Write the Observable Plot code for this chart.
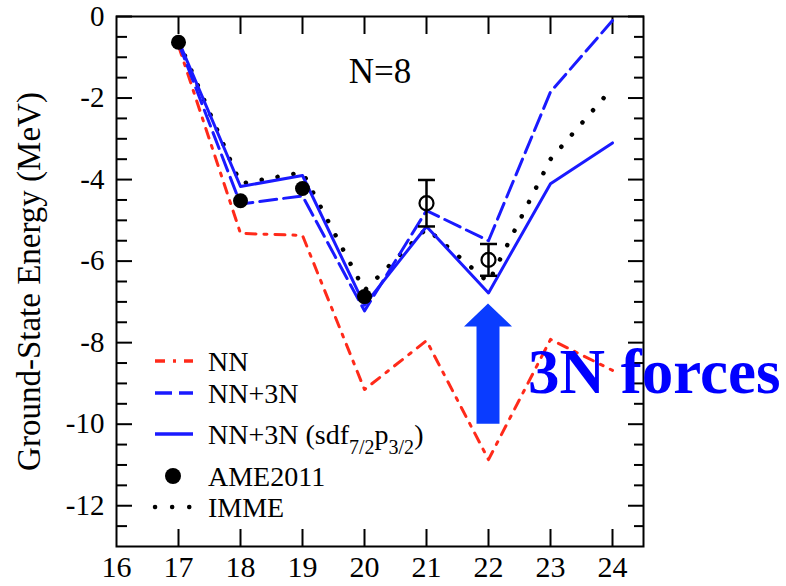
<!DOCTYPE html>
<html><head><meta charset="utf-8">
<script src="https://cdn.jsdelivr.net/npm/d3@7"></script>
<script src="https://cdn.jsdelivr.net/npm/@observablehq/plot@0.6"></script>
<style>
html,body{margin:0;padding:0;background:#fff;}
#chart{width:786px;height:586px;}
</style></head><body><div id="chart"></div>
<script>
// ---- data ----
const Z = [17, 18, 19, 20, 21, 22, 23, 24];
const nnE    = [-0.72, -5.32, -5.37, -9.15, -7.95, -10.87, -7.92, -8.68];
const nn3nE  = [-0.65, -4.60, -4.40, -7.22, -4.76, -5.50, -1.85, -0.10];
const sdfE   = [-0.60, -4.17, -3.90, -7.08, -5.15, -6.78, -4.10, -3.10];
const immeE  = [-0.60, -4.10, -3.82, -6.72, -5.20, -6.52, -3.50, -1.75];
const ameZ = [17, 18, 19, 20];
const ameE = [-0.63, -4.52, -4.22, -6.87];
const extZ = [21, 22];
const extE = [-4.58, -5.97];
const extErr = [0.57, 0.39];
const xTicks = [16, 17, 18, 19, 20, 21, 22, 23, 24];
const xInnerTicks = [17, 18, 19, 20, 21, 22, 23, 24];
const yTicks = [0, -2, -4, -6, -8, -10, -12];
const yMinor = d3.range(-12.5, 0, 0.5).filter(v => v % 2 !== 0);
const seriesNames = ["NN", "NN+3N", "NN+3N (sdf", "AME2011", "IMME"];
const arrowZ = 22, arrowFrom = -10, arrowTo = -7.05;
const yLabel = "Ground-State Energy (MeV)";
const panelLabel = "N=8";
const arrowLabel = "3N forces";

const RED = "#ff2a1a", BLUE = "#1a1aff", ARROW = "#0a3cff", TXT = "#0000ff";
const SERIF = "'Liberation Serif','Times New Roman',serif";
const DASH_RED = "10,8,3,8", DASH_BLUE = "17,7", DOT = "0.1,16";

const extLo = extE.map((e, i) => e - extErr[i]);
const extHi = extE.map((e, i) => e + extErr[i]);
const capSymbol = {draw(ctx, size) { const r = Math.sqrt(size / Math.PI); ctx.moveTo(-r, 0); ctx.lineTo(r, 0); }};

const plot = Plot.plot({
  width: 786, height: 586,
  marginLeft: 116, marginRight: 143, marginTop: 16, marginBottom: 40,
  style: {fontFamily: SERIF, background: "white", color: "black"},
  x: {domain: [16, 24.5]},
  y: {domain: [-13, 0]},
  marks: [
    // inward ticks
    Plot.axisY({anchor: "left", ticks: yTicks, tickSize: -16, strokeWidth: 2, fill: "none", label: null}),
    Plot.axisY({anchor: "left", ticks: yMinor, tickSize: -11, strokeWidth: 2, fill: "none", label: null}),
    Plot.axisY({anchor: "right", ticks: yTicks, tickSize: -16, strokeWidth: 2, fill: "none", label: null}),
    Plot.axisY({anchor: "right", ticks: yMinor, tickSize: -10, strokeWidth: 2, fill: "none", label: null}),
    Plot.axisX({anchor: "bottom", ticks: xInnerTicks, tickSize: -17, strokeWidth: 2, fill: "none", label: null}),
    Plot.axisX({anchor: "top", ticks: xInnerTicks, tickSize: -17, strokeWidth: 2, fill: "none", label: null}),
    // tick labels
    Plot.axisY({anchor: "left", ticks: yTicks, tickSize: 0, tickPadding: 12, fontSize: 29, tickFormat: d => String(d), label: null}),
    Plot.axisX({anchor: "bottom", ticks: xTicks, tickSize: 0, tickPadding: 9, fontSize: 30, tickFormat: d => String(d), label: null}),
    Plot.frame({stroke: "black", strokeWidth: 2}),
    // series
    Plot.line(Z, {x: Z, y: nnE, stroke: RED, strokeWidth: 3, strokeDasharray: DASH_RED}),
    Plot.line(Z, {x: Z, y: immeE, stroke: "black", strokeWidth: 4.5, strokeLinecap: "round", strokeDasharray: DOT}),
    Plot.line(Z, {x: Z, y: nn3nE, stroke: BLUE, strokeWidth: 3, strokeDasharray: DASH_BLUE}),
    Plot.line(Z, {x: Z, y: sdfE, stroke: BLUE, strokeWidth: 3}),
    Plot.dot(ameZ, {x: ameZ, y: ameE, r: 7.5, fill: "black"}),
    Plot.ruleX(extZ, {x: extZ, y1: extLo, y2: extHi, stroke: "black", strokeWidth: 2.5}),
    Plot.dot(extZ, {x: extZ, y: extLo, symbol: capSymbol, r: 8.5, stroke: "black", strokeWidth: 2.5, fill: "none"}),
    Plot.dot(extZ, {x: extZ, y: extHi, symbol: capSymbol, r: 8.5, stroke: "black", strokeWidth: 2.5, fill: "none"}),
    Plot.dot(extZ, {x: extZ, y: extE, r: 7, stroke: "black", strokeWidth: 2.2, fill: "none"}),
    // texts
    Plot.text([panelLabel], {frameAnchor: "top", dy: 42, lineAnchor: "top", textAnchor: "middle", fontSize: 35, text: d => d}),
    Plot.text([yLabel], {frameAnchor: "left", dx: -87, rotate: -90, textAnchor: "middle", lineAnchor: "middle", fontSize: 33, text: d => d})
  ]
});
document.getElementById("chart").appendChild(plot);

// ---- annotations drawn with the plot's scales ----
const svg = d3.select(plot);
const sx = plot.scale("x"), sy = plot.scale("y");
const cx = sx.apply(arrowZ), yBase = sy.apply(arrowFrom), yTip = sy.apply(arrowTo);
const headLen = 23, headHalf = 24, shaftHalf = 11.5;
svg.append("path")
  .attr("d", `M${cx - shaftHalf},${yBase}V${yTip + headLen}H${cx - headHalf}L${cx},${yTip}L${cx + headHalf},${yTip + headLen}H${cx + shaftHalf}V${yBase}Z`)
  .attr("fill", ARROW);
svg.append("text")
  .attr("x", cx + 40).attr("y", yBase - 31).attr("text-anchor", "start")
  .attr("font-family", SERIF).attr("font-weight", "bold").attr("font-size", 63)
  .attr("fill", TXT).text(arrowLabel);

// ---- legend ----
const lg = svg.append("g").attr("transform", "translate(155,0)");
const rows = [
  {name: seriesNames[0], y: 361, type: "line", stroke: RED, dash: DASH_RED},
  {name: seriesNames[1], y: 393, type: "line", stroke: BLUE, dash: DASH_BLUE},
  {name: seriesNames[2], y: 434, type: "line", stroke: BLUE, dash: null, sub: true},
  {name: seriesNames[3], y: 476, type: "dot"},
  {name: seriesNames[4], y: 507, type: "dots"}
];
rows.forEach(r => {
  if (r.type === "line") {
    lg.append("line").attr("x1", 0).attr("x2", 38).attr("y1", r.y).attr("y2", r.y)
      .attr("stroke", r.stroke).attr("stroke-width", 3.5).attr("stroke-dasharray", r.dash);
  } else if (r.type === "dot") {
    lg.append("circle").attr("cx", 18).attr("cy", r.y).attr("r", 8).attr("fill", "black");
  } else {
    lg.append("line").attr("x1", 0).attr("x2", 38).attr("y1", r.y).attr("y2", r.y)
      .attr("stroke", "black").attr("stroke-width", 4.5).attr("stroke-linecap", "round").attr("stroke-dasharray", "0.1,17");
  }
  const t = lg.append("text").attr("x", 53).attr("y", r.y + 9.5).attr("text-anchor", "start")
    .attr("font-family", SERIF).attr("font-size", 28).attr("fill", "black");
  if (r.sub) {
    t.append("tspan").text(r.name);
    t.append("tspan").attr("font-size", 20).attr("dy", 10).text("7/2");
    t.append("tspan").attr("dy", -10).text("p");
    t.append("tspan").attr("font-size", 20).attr("dy", 10).text("3/2");
    t.append("tspan").attr("dy", -10).text(")");
  } else {
    t.text(r.name);
  }
});
</script>
</body></html>
